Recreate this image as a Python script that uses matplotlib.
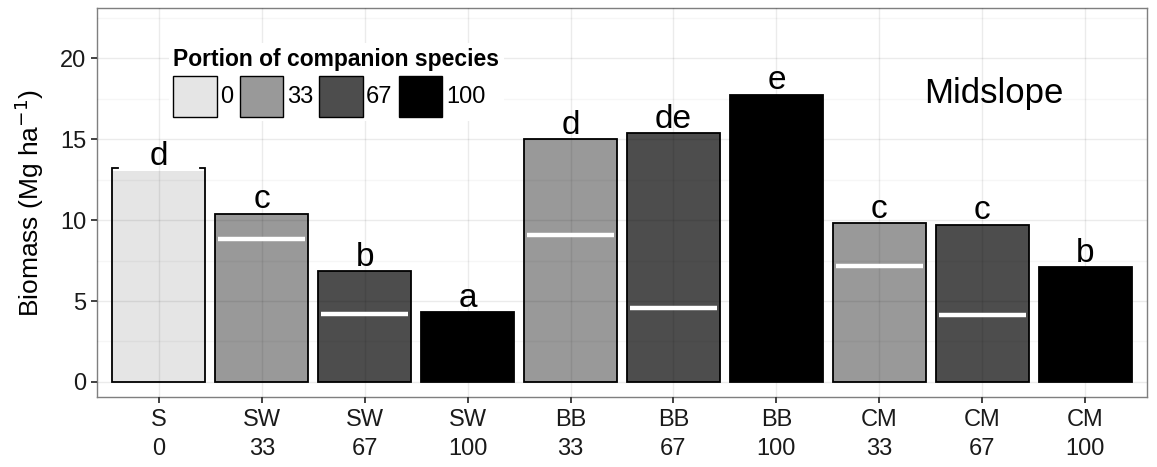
import matplotlib
matplotlib.use("Agg")
import matplotlib.pyplot as plt
from matplotlib.patches import Patch
import numpy as np

plt.rcParams['font.family'] = ['Liberation Sans', 'DejaVu Sans']

# mixture treatments, companion-species share and total biomass (Mg/ha)
mixtures = ['S', 'SW', 'SW', 'SW', 'BB', 'BB', 'BB', 'CM', 'CM', 'CM']
portion = [0, 33, 67, 100, 33, 67, 100, 33, 67, 100]
biomass = [13.05, 10.4, 6.85, 4.32, 15.0, 15.35, 17.75, 9.82, 9.72, 7.08]
# switchgrass share of the total, shown as white bars inside the columns
sw_part = [None, 8.8, 4.2, None, 9.1, 4.55, None, 7.15, 4.15, None]
letters = ['d', 'c', 'b', 'a', 'd', 'de', 'e', 'c', 'c', 'b']

shades = {0: '#e5e5e5', 33: '#999999', 67: '#4d4d4d', 100: '#000000'}

fig = plt.figure(figsize=(11.57, 4.67), dpi=100)
ax = fig.add_axes([97/1157, 70/467, 1050/1157, 389/467])

x = np.arange(1, len(biomass) + 1)
w = 0.9
cols = [shades[p] for p in portion]

# grid sits on top of the bars (semi-transparent, like ggplot output)
ax.set_axisbelow(False)
for i, (xi, val, c) in enumerate(zip(x, biomass, cols)):
    if portion[i] == 0:
        # monoculture bar: outline drawn by hand, no top edge
        ax.bar(xi, val, w, color=c, edgecolor='none', zorder=1)
        l, r = xi - w/2, xi + w/2
        top = val + 0.15
        s = 0.05
        ax.plot([l + s, l, l, r, r, r - s], [top, top, 0, 0, top, top],
                color='black', lw=1.3, zorder=2, solid_joinstyle='miter')
    else:
        ax.bar(xi, val, w, color=c, edgecolor='black', linewidth=1.3, zorder=1)

for xi, v in zip(x, sw_part):
    if v is not None:
        ax.hlines(v, xi - 0.42, xi + 0.42, colors='white', linewidth=3.2, zorder=3)

for xi, val, t in zip(x, biomass, letters):
    ax.text(xi, val - 0.1, t, ha='center', va='bottom', fontsize=24, zorder=4)

ax.text(0.854, 0.78, 'Midslope', transform=ax.transAxes, ha='center', va='center',
        fontsize=25)

ax.set_xlim(0.4, 10.6)
ax.set_ylim(-0.93, 23.1)
ax.set_yticks([0, 5, 10, 15, 20])
ax.set_yticks([2.5, 7.5, 12.5, 17.5, 22.5], minor=True)
ax.set_xticks(x)
ax.set_xticklabels([f'{m}\n{p}' for m, p in zip(mixtures, portion)], linespacing=1.4)
ax.grid(True, which='major', color='black', alpha=0.08, linewidth=1.0, zorder=5)
ax.grid(True, which='minor', axis='y', color='black', alpha=0.035, linewidth=1.0, zorder=5)
ax.tick_params(axis='both', which='major', labelsize=17, length=4.5, width=1.3,
               color='#333333', labelcolor='#1a1a1a', pad=3)
ax.tick_params(axis='x', which='major', pad=4)
ax.tick_params(axis='both', which='minor', length=0)
for sp in ax.spines.values():
    sp.set_color('#7f7f7f')
    sp.set_linewidth(1.0)

ax.set_ylabel('Biomass (Mg ha$^{-1}$)', fontsize=19, labelpad=10)

handles = [Patch(facecolor=shades[p], edgecolor='black', linewidth=1.0) for p in shades]
leg = ax.legend(handles, [str(p) for p in shades], ncol=4, loc='upper left',
                bbox_to_anchor=(0.057, 0.94), title='Portion of companion species',
                title_fontproperties={'weight': 'bold', 'size': 16.5}, fontsize=17,
                handlelength=1.85, handleheight=2.3, handletextpad=0.15,
                columnspacing=0.25, borderpad=0.2, labelspacing=0.2,
                frameon=True, fancybox=False, alignment='left')
leg.get_frame().set_edgecolor('none')
leg.get_frame().set_facecolor('white')
leg.get_frame().set_alpha(1)
leg.set_zorder(6)

fig.savefig('out.png', dpi=100)
